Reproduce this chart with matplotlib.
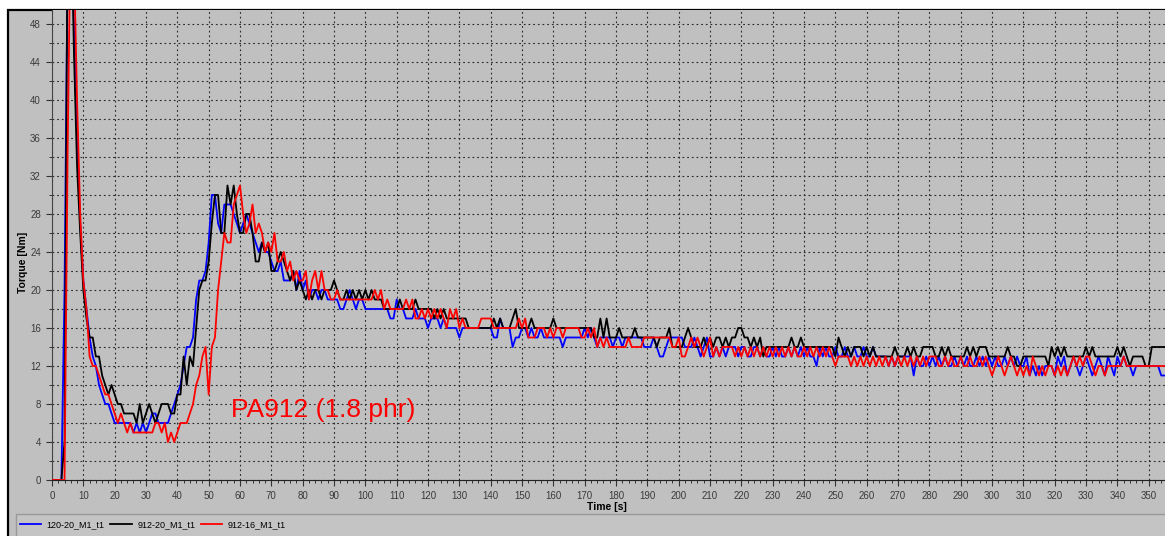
import matplotlib
matplotlib.use("Agg")
import matplotlib.pyplot as plt
from matplotlib.patches import Rectangle
from matplotlib.ticker import MultipleLocator

plt.rcParams["font.family"] = ["Liberation Sans", "DejaVu Sans"]

# sample times, one reading per second
time_s = list(range(0, 356))

# 120-20_M1_t1 (blue)
torque_120_20 = [
    0, 0, 0, 0, 20, 55, 60, 48, 36, 27,
    21, 18, 15, 13, 12, 10, 9, 8, 8, 7,
    6, 6, 6, 6, 6, 6, 5, 6, 5, 6,
    5, 6, 7, 7, 6, 6, 6, 6, 7, 8,
    9, 10, 12, 14, 14, 15, 19, 21, 21, 22,
    25, 30, 30, 27, 26, 29, 29, 29, 28, 27,
    26, 27, 28, 27, 26, 25, 24, 25, 24, 24,
    23, 22, 22, 23, 21, 21, 21, 22, 20, 22,
    20, 21, 19, 20, 20, 19, 20, 20, 19, 19,
    19, 19, 18, 18, 19, 20, 19, 18, 19, 19,
    18, 18, 18, 18, 18, 18, 18, 18, 17, 17,
    19, 18, 18, 17, 17, 17, 18, 17, 17, 17,
    16, 17, 17, 17, 16, 17, 16, 16, 16, 16,
    15, 16, 16, 16, 16, 16, 16, 16, 16, 16,
    16, 15, 15, 17, 16, 16, 16, 14, 15, 15,
    16, 16, 15, 16, 15, 15, 16, 15, 15, 15,
    15, 15, 15, 14, 15, 15, 15, 15, 15, 15,
    16, 15, 16, 15, 14, 15, 15, 15, 15, 14,
    15, 15, 14, 15, 15, 15, 15, 15, 15, 14,
    14, 14, 15, 14, 13, 13, 14, 15, 15, 15,
    15, 15, 14, 14, 14, 15, 14, 13, 14, 15,
    13, 13, 14, 13, 14, 13, 14, 14, 14, 13,
    14, 14, 13, 13, 14, 14, 13, 14, 13, 13,
    14, 13, 14, 13, 13, 14, 13, 14, 13, 14,
    13, 14, 13, 13, 12, 14, 13, 14, 13, 13,
    14, 13, 13, 14, 13, 13, 14, 13, 13, 14,
    13, 13, 14, 13, 13, 13, 13, 12, 13, 12,
    13, 13, 13, 13, 13, 11, 13, 12, 12, 13,
    12, 13, 12, 13, 12, 13, 12, 12, 13, 12,
    13, 12, 13, 12, 12, 13, 12, 13, 12, 13,
    12, 13, 12, 12, 13, 12, 13, 12, 13, 12,
    12, 13, 11, 12, 11, 12, 11, 12, 12, 12,
    11, 13, 12, 13, 11, 12, 13, 12, 11, 12,
    13, 12, 11, 12, 13, 12, 11, 13, 12, 11,
    13, 12, 13, 12, 12, 11, 12, 12, 12, 12,
    12, 12, 12, 12, 11, 11,
]

# 912-20_M1_t1 (black)
torque_912_20 = [
    0, 0, 0, 0, 4, 60, 62, 45, 33, 26,
    20, 17, 15, 15, 13, 13, 11, 10, 9, 10,
    9, 8, 8, 7, 7, 7, 7, 6, 8, 6,
    7, 8, 7, 6, 7, 8, 8, 8, 7, 7,
    9, 9, 13, 10, 13, 12, 16, 20, 21, 21,
    23, 27, 30, 30, 26, 26, 31, 29, 31, 28,
    26, 26, 28, 28, 26, 23, 23, 25, 24, 25,
    22, 22, 23, 24, 23, 22, 21, 22, 20, 21,
    20, 19, 20, 19, 20, 20, 19, 20, 20, 20,
    21, 20, 19, 19, 20, 19, 20, 19, 20, 19,
    20, 19, 20, 19, 19, 19, 18, 18, 18, 18,
    18, 19, 18, 18, 18, 18, 19, 18, 18, 18,
    18, 18, 17, 18, 17, 18, 17, 17, 17, 17,
    17, 17, 17, 16, 16, 16, 16, 16, 16, 16,
    16, 17, 16, 17, 16, 16, 16, 17, 18, 16,
    16, 16, 16, 17, 16, 16, 16, 16, 16, 16,
    17, 16, 16, 16, 16, 16, 16, 16, 16, 16,
    16, 16, 16, 15, 15, 17, 15, 17, 15, 15,
    15, 16, 15, 15, 15, 15, 16, 15, 15, 15,
    15, 15, 15, 14, 15, 15, 15, 16, 14, 14,
    14, 14, 15, 16, 15, 14, 14, 14, 15, 14,
    15, 14, 15, 15, 14, 15, 14, 15, 15, 16,
    16, 15, 15, 14, 15, 14, 15, 13, 14, 14,
    14, 14, 14, 14, 14, 14, 15, 14, 14, 15,
    14, 14, 14, 14, 14, 14, 14, 14, 14, 14,
    13, 15, 14, 13, 14, 13, 14, 14, 14, 13,
    14, 13, 14, 13, 13, 13, 13, 13, 13, 14,
    13, 13, 13, 14, 13, 14, 13, 13, 14, 14,
    14, 14, 13, 13, 14, 13, 14, 13, 13, 13,
    13, 13, 14, 13, 14, 13, 14, 14, 14, 13,
    13, 13, 13, 13, 13, 14, 13, 13, 12, 12,
    13, 13, 13, 13, 13, 13, 13, 13, 12, 14,
    13, 14, 13, 14, 13, 13, 13, 13, 13, 13,
    14, 13, 14, 13, 13, 13, 13, 13, 13, 13,
    14, 13, 14, 13, 12, 13, 13, 13, 13, 12,
    12, 14, 14, 14, 14, 14,
]

# 912-16_M1_t1 (red)
torque_912_16 = [
    0, 0, 0, 0, 0, 35, 60, 55, 40, 28,
    21, 18, 13, 12, 12, 11, 10, 9, 9, 8,
    7, 6, 7, 6, 5, 6, 5, 5, 5, 5,
    5, 5, 5, 6, 6, 5, 6, 4, 5, 4,
    5, 6, 6, 6, 7, 8, 10, 11, 13, 14,
    9, 14, 15, 20, 23, 26, 25, 25, 29, 30,
    31, 28, 26, 27, 29, 26, 27, 26, 24, 25,
    24, 26, 23, 23, 24, 22, 23, 21, 22, 21,
    21, 22, 19, 21, 22, 20, 22, 20, 20, 19,
    19, 20, 19, 19, 19, 19, 19, 19, 19, 19,
    19, 19, 19, 20, 19, 20, 18, 19, 18, 18,
    18, 18, 18, 19, 18, 19, 17, 17, 18, 17,
    18, 17, 18, 17, 18, 17, 16, 18, 17, 18,
    16, 17, 16, 16, 16, 16, 16, 17, 17, 17,
    17, 16, 16, 16, 16, 16, 16, 16, 16, 17,
    16, 17, 15, 15, 15, 16, 16, 16, 15, 16,
    15, 16, 16, 15, 16, 16, 16, 16, 16, 15,
    15, 16, 15, 16, 14, 15, 14, 15, 14, 14,
    14, 14, 14, 14, 15, 14, 14, 14, 14, 15,
    15, 15, 15, 15, 15, 15, 15, 15, 14, 14,
    15, 13, 13, 14, 15, 14, 15, 14, 13, 14,
    15, 13, 14, 13, 14, 14, 14, 14, 13, 14,
    13, 14, 13, 14, 13, 14, 13, 14, 13, 14,
    13, 14, 13, 14, 13, 14, 13, 14, 13, 13,
    14, 13, 14, 13, 14, 13, 14, 13, 14, 13,
    12, 13, 13, 13, 13, 12, 13, 12, 13, 12,
    13, 12, 13, 12, 13, 12, 13, 12, 13, 12,
    13, 12, 13, 12, 13, 12, 13, 12, 13, 12,
    13, 13, 13, 12, 12, 13, 12, 13, 12, 12,
    13, 12, 12, 13, 12, 12, 13, 12, 13, 12,
    11, 12, 13, 12, 11, 12, 13, 12, 11, 12,
    11, 12, 11, 13, 12, 11, 12, 11, 12, 12,
    11, 12, 11, 12, 11, 12, 13, 12, 13, 12,
    13, 13, 12, 11, 12, 12, 11, 12, 12, 12,
    12, 12, 13, 12, 12, 12, 12, 12, 12, 12,
    12, 12, 12, 12, 12, 12,
]

series = [
    ("120-20_M1_t1", torque_120_20, "#0000ff"),
    ("912-20_M1_t1", torque_912_20, "#000000"),
    ("912-16_M1_t1", torque_912_16, "#ff0000"),
]

W, H = 1165, 536
fig = plt.figure(figsize=(W / 100, H / 100), dpi=100, facecolor="white")

# grey panel with black frame, legend strip (kept behind the axes)
panel = Rectangle((8 / W, -0.01), 1.0, (536 - 10) / H + 0.01,
                  transform=fig.transFigure, facecolor="#c0c0c0",
                  edgecolor="black", lw=1.6, zorder=-10)
strip = Rectangle((16 / W, -0.01), 1.0, (536 - 514) / H + 0.01,
                  transform=fig.transFigure, facecolor="#c4c4c4",
                  edgecolor="#9a9a9a", lw=1.0, zorder=-9)
fig.add_artist(panel)
fig.add_artist(strip)

ax = fig.add_axes([52 / W, 56 / H, (W - 52) / W, (480 - 10) / H])
ax.set_zorder(1)
ax.set_facecolor("#c0c0c0")

for name, vals, col in series:
    ax.plot(time_s, vals, color=col, lw=1.3, label=name, zorder=3)

ax.set_xlim(0, 355.2)
ax.set_ylim(0, 49.47)

ax.xaxis.set_major_locator(MultipleLocator(10))
ax.xaxis.set_minor_locator(MultipleLocator(2))
ax.yaxis.set_major_locator(MultipleLocator(4))
ax.yaxis.set_minor_locator(MultipleLocator(2))

ax.grid(True, which="major", axis="x", color="#2a2a2a", ls=(0, (1.6, 2.6)), lw=0.8)
ax.grid(True, which="both", axis="y", color="#2a2a2a", ls=(0, (1.6, 2.6)), lw=0.8)
ax.set_axisbelow(True)

ax.tick_params(axis="both", which="major", labelsize=7, labelcolor="#3a3a3a",
               color="#333333", length=4, width=0.8, direction="out", pad=4)
ax.tick_params(axis="both", which="minor", color="#333333", length=2.5, width=0.7,
               direction="out")

for side in ["top", "right"]:
    ax.spines[side].set_visible(False)
ax.spines["left"].set_color("#444444")
ax.spines["bottom"].set_color("#222222")

ax.set_xlabel("Time [s]", fontsize=7.5, fontweight="bold")
ax.xaxis.set_label_coords((607 - 52) / (W - 52), -(502 - 480) / 470)
ax.set_ylabel("Torque [Nm]", fontsize=7.5, fontweight="bold")
ax.yaxis.set_label_coords(-(52 - 28) / (W - 52), (480 - 262) / 470)

# annotation placed at about x=230 px, baseline near y=418 px
ax.text(57, 6.6, "PA912 (1.8 phr)", color="#ff0000", fontsize=19,
        ha="left", va="baseline", zorder=4)

leg = fig.legend(loc="center left", bbox_to_anchor=(16 / W, (536 - 525) / H),
                 ncol=3, frameon=False, fontsize=6.5, handlelength=2.4,
                 handletextpad=0.6, columnspacing=0.6, borderaxespad=0)
leg.set_zorder(5)

fig.savefig("out.png", dpi=100, facecolor=fig.get_facecolor())
